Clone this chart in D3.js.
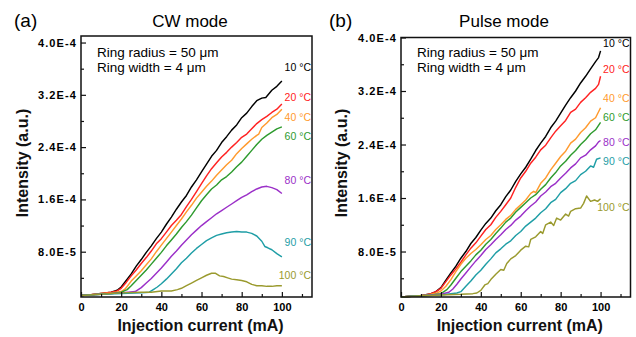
<!DOCTYPE html>
<html>
<head>
<meta charset="utf-8">
<script src="https://cdn.jsdelivr.net/npm/d3@7"></script>
<style>
  body { margin: 0; background: #fff; }
  text { font-family: Arial, "Liberation Sans", sans-serif; }
</style>
</head>
<body>
<div id="chart"></div>
<script>
// ---- data (injection current mA, intensity a.u.) ----
const temps = ['10 °C', '20 °C', '40 °C', '60 °C', '80 °C', '90 °C', '100 °C'];
const colors = ['#000000', '#ff2222', '#ff9a2e', '#2e9b2e', '#9b30c8', '#1f9ea6', '#9a9a2e'];

const xTicks = [0, 20, 40, 60, 80, 100];
const xMinor = [10, 30, 50, 70, 90, 110];
const yTicks = [8.0e-5, 1.6e-4, 2.4e-4, 3.2e-4, 4.0e-4];
const yMinor = [4.0e-5, 1.2e-4, 2.0e-4, 2.8e-4, 3.6e-4];

// CW mode
const cw10 = [[0,1.3e-5],[5,1.4e-5],[10,1.6e-5],[15,1.8e-5],[18,2.1e-5],[20,2.6e-5],[22.5,3.6e-5],[25,4.6e-5],[27.5,5.8e-5],[30,6.8e-5],[32.5,7.9e-5],[35,8.9e-5],[37.5,1.0e-4],[40,1.1e-4],[42.5,1.22e-4],[45,1.33e-4],[47.5,1.45e-4],[50,1.56e-4],[52.5,1.66e-4],[55,1.79e-4],[57.5,1.9e-4],[60,2.02e-4],[62.5,2.14e-4],[65,2.26e-4],[67.5,2.35e-4],[70,2.47e-4],[72.5,2.56e-4],[75,2.66e-4],[77.5,2.74e-4],[80,2.85e-4],[82.5,2.92e-4],[85,3.02e-4],[87.5,3.11e-4],[90,3.15e-4],[92,3.16e-4],[95,3.27e-4],[97.5,3.33e-4],[100,3.41e-4]];
const cw20 = [[0,1.3e-5],[5,1.4e-5],[10,1.6e-5],[15,1.8e-5],[18,2.0e-5],[20,2.4e-5],[22.5,3.3e-5],[25,4.3e-5],[27.5,5.2e-5],[30,6.2e-5],[32.5,7.1e-5],[35,8.1e-5],[37.5,9.2e-5],[40,1.0e-4],[42.5,1.1e-4],[45,1.2e-4],[47.5,1.28e-4],[50,1.37e-4],[52.5,1.49e-4],[55,1.6e-4],[57.5,1.72e-4],[60,1.84e-4],[62.5,1.96e-4],[65,2.07e-4],[67.5,2.16e-4],[70,2.25e-4],[72.5,2.32e-4],[75,2.4e-4],[77.5,2.47e-4],[80,2.55e-4],[82.5,2.6e-4],[85,2.68e-4],[87.5,2.76e-4],[90,2.82e-4],[92.5,2.87e-4],[95,2.93e-4],[97.5,2.98e-4],[100,3.06e-4]];
const cw40 = [[0,1.3e-5],[5,1.4e-5],[10,1.6e-5],[15,1.7e-5],[20,1.9e-5],[22,2.3e-5],[25,3.5e-5],[27.5,4.3e-5],[30,5.1e-5],[32.5,6.0e-5],[35,6.9e-5],[37.5,8.0e-5],[40,9.0e-5],[42.5,1.0e-4],[45,1.1e-4],[47.5,1.2e-4],[50,1.3e-4],[52.5,1.41e-4],[55,1.51e-4],[57.5,1.62e-4],[60,1.71e-4],[62.5,1.8e-4],[65,1.88e-4],[67.5,1.97e-4],[70,2.05e-4],[72.5,2.13e-4],[75,2.2e-4],[77.5,2.3e-4],[80,2.38e-4],[82.5,2.45e-4],[85,2.52e-4],[87.5,2.58e-4],[88.5,2.6e-4],[90,2.7e-4],[92.5,2.77e-4],[95,2.85e-4],[97.5,2.9e-4],[100,2.98e-4]];
const cw60 = [[0,1.3e-5],[5,1.4e-5],[10,1.5e-5],[15,1.6e-5],[20,1.8e-5],[23,2.2e-5],[25,2.8e-5],[27.5,3.6e-5],[30,4.4e-5],[32.5,5.2e-5],[35,6.1e-5],[37.5,7.0e-5],[40,7.9e-5],[42.5,8.9e-5],[45,9.8e-5],[47.5,1.07e-4],[50,1.17e-4],[52.5,1.26e-4],[55,1.36e-4],[57.5,1.47e-4],[60,1.58e-4],[62.5,1.67e-4],[65,1.76e-4],[67.5,1.82e-4],[70,1.9e-4],[72.5,1.95e-4],[75,2.02e-4],[77.5,2.1e-4],[80,2.17e-4],[82.5,2.26e-4],[85,2.35e-4],[87.5,2.44e-4],[90,2.52e-4],[92.5,2.58e-4],[95,2.63e-4],[97.5,2.68e-4],[100,2.71e-4]];
const cw80 = [[0,1.3e-5],[5,1.4e-5],[10,1.5e-5],[20,1.7e-5],[27,1.9e-5],[30,2.5e-5],[32.5,3.2e-5],[35,3.9e-5],[37.5,4.7e-5],[40,5.5e-5],[42.5,6.4e-5],[45,7.3e-5],[47.5,8.1e-5],[50,9.0e-5],[52.5,9.8e-5],[55,1.06e-4],[57.5,1.13e-4],[60,1.2e-4],[62.5,1.26e-4],[65,1.32e-4],[67.5,1.38e-4],[70,1.43e-4],[72.5,1.48e-4],[75,1.53e-4],[77.5,1.58e-4],[80,1.63e-4],[82.5,1.67e-4],[85,1.72e-4],[87.5,1.76e-4],[90,1.79e-4],[92.5,1.8e-4],[95,1.78e-4],[97.5,1.75e-4],[100,1.69e-4]];
const cw90 = [[0,1.3e-5],[10,1.5e-5],[20,1.6e-5],[30,1.7e-5],[34,1.8e-5],[36,2.2e-5],[38,2.6e-5],[40,3.1e-5],[42.5,3.8e-5],[45,4.6e-5],[47.5,5.4e-5],[50,6.3e-5],[52.5,7.0e-5],[55,7.8e-5],[57.5,8.5e-5],[60,9.1e-5],[62.5,9.7e-5],[65,1.01e-4],[67.5,1.05e-4],[70,1.07e-4],[72.5,1.09e-4],[75,1.1e-4],[77.5,1.11e-4],[80,1.1e-4],[82.5,1.1e-4],[85,1.08e-4],[87.5,1.04e-4],[90,9.6e-5],[91.5,8.8e-5],[93,8.6e-5],[95,8.3e-5],[97.5,7.7e-5],[100,7.2e-5]];
const cw100 = [[0,1.3e-5],[10,1.5e-5],[20,1.7e-5],[30,1.8e-5],[35,1.8e-5],[40,2.0e-5],[45,2.0e-5],[48,2.2e-5],[50,2.4e-5],[52.5,2.8e-5],[55,3.2e-5],[57.5,3.6e-5],[60,4.0e-5],[62.5,4.4e-5],[65,4.7e-5],[67,4.7e-5],[69,4.3e-5],[71,4.2e-5],[73,4.0e-5],[75,3.8e-5],[77.5,3.7e-5],[80,3.6e-5],[82.5,3.4e-5],[85,3.0e-5],[87.5,2.8e-5],[90,2.8e-5],[92.5,2.7e-5],[95,2.7e-5],[97.5,2.8e-5],[100,2.8e-5]];

// Pulse mode
const p10 = [[0,1.2e-5],[5,1.3e-5],[10,1.4e-5],[15,1.7e-5],[17.5,2.0e-5],[20,2.6e-5],[22.5,3.7e-5],[25,4.8e-5],[27.5,5.8e-5],[30,7.0e-5],[32.5,8.0e-5],[35,9.2e-5],[37.5,1.01e-4],[40,1.12e-4],[42.5,1.22e-4],[45,1.3e-4],[47.5,1.41e-4],[50,1.5e-4],[52.5,1.62e-4],[55,1.72e-4],[57.5,1.85e-4],[60,1.96e-4],[62.5,2.06e-4],[65,2.18e-4],[67.5,2.31e-4],[70,2.42e-4],[72.5,2.52e-4],[75,2.65e-4],[77.5,2.75e-4],[80,2.87e-4],[82.5,2.99e-4],[85,3.1e-4],[87.5,3.2e-4],[90,3.32e-4],[92.5,3.42e-4],[95,3.53e-4],[97.5,3.64e-4],[99,3.7e-4],[100,3.8e-4]];
const p20 = [[0,1.2e-5],[5,1.3e-5],[10,1.4e-5],[15,1.7e-5],[17.5,2.0e-5],[20,2.5e-5],[22.5,3.5e-5],[25,4.5e-5],[27.5,5.4e-5],[30,6.4e-5],[32.5,7.5e-5],[35,8.5e-5],[37.5,9.3e-5],[40,1.03e-4],[42.5,1.13e-4],[45,1.2e-4],[47.5,1.31e-4],[50,1.4e-4],[52.5,1.5e-4],[55,1.6e-4],[57.5,1.76e-4],[60,1.9e-4],[62.5,2.0e-4],[65,2.12e-4],[67.5,2.21e-4],[70,2.32e-4],[72.5,2.39e-4],[75,2.5e-4],[77.5,2.6e-4],[80,2.68e-4],[82.5,2.76e-4],[85,2.88e-4],[87.5,2.93e-4],[90,3.03e-4],[92.5,3.1e-4],[95,3.18e-4],[97.5,3.24e-4],[99,3.3e-4],[100,3.42e-4]];
const p40 = [[0,1.2e-5],[5,1.3e-5],[10,1.4e-5],[15,1.6e-5],[18,1.8e-5],[20,2.1e-5],[22.5,2.8e-5],[25,3.8e-5],[27.5,5.0e-5],[30,6.1e-5],[32.5,7.0e-5],[35,7.7e-5],[37.5,8.3e-5],[40,9.0e-5],[42.5,9.8e-5],[45,1.04e-4],[47.5,1.13e-4],[50,1.2e-4],[52.5,1.28e-4],[55,1.34e-4],[57.5,1.43e-4],[60,1.5e-4],[62.5,1.57e-4],[65,1.67e-4],[66.5,1.7e-4],[67.5,1.68e-4],[70,1.82e-4],[72.5,1.9e-4],[75,2.02e-4],[77.5,2.12e-4],[80,2.22e-4],[82.5,2.3e-4],[85,2.42e-4],[87.5,2.48e-4],[90,2.58e-4],[92.5,2.65e-4],[95,2.75e-4],[97.5,2.8e-4],[98.5,2.86e-4],[100,2.95e-4]];
const p60 = [[0,1.2e-5],[5,1.3e-5],[10,1.4e-5],[15,1.5e-5],[20,1.7e-5],[23,2.3e-5],[25,3.0e-5],[27.5,4.0e-5],[30,5.0e-5],[32.5,5.8e-5],[35,6.6e-5],[37.5,7.5e-5],[40,8.2e-5],[42.5,9.1e-5],[45,9.8e-5],[47.5,1.07e-4],[50,1.15e-4],[52.5,1.24e-4],[55,1.3e-4],[57.5,1.39e-4],[60,1.46e-4],[62.5,1.53e-4],[65,1.6e-4],[67.5,1.65e-4],[70,1.73e-4],[72.5,1.8e-4],[75,1.9e-4],[77.5,1.98e-4],[80,2.08e-4],[82.5,2.15e-4],[85,2.24e-4],[87.5,2.31e-4],[90,2.4e-4],[92.5,2.47e-4],[95,2.56e-4],[97.5,2.62e-4],[100,2.73e-4]];
const p80 = [[0,1.2e-5],[5,1.3e-5],[10,1.4e-5],[15,1.5e-5],[20,1.6e-5],[24,1.9e-5],[26,2.4e-5],[28,3.1e-5],[30,3.9e-5],[32.5,4.8e-5],[35,5.7e-5],[37.5,6.6e-5],[40,7.4e-5],[42.5,8.3e-5],[45,9.0e-5],[47.5,9.8e-5],[50,1.05e-4],[52.5,1.13e-4],[55,1.19e-4],[57.5,1.27e-4],[60,1.33e-4],[62.5,1.41e-4],[65,1.48e-4],[67.5,1.54e-4],[70,1.63e-4],[72.5,1.69e-4],[75,1.77e-4],[77.5,1.82e-4],[80,1.9e-4],[82.5,1.97e-4],[85,2.05e-4],[87.5,2.11e-4],[90,2.2e-4],[92.5,2.24e-4],[95,2.32e-4],[97.5,2.38e-4],[99,2.44e-4],[100,2.46e-4]];
const p90 = [[0,1.2e-5],[5,1.3e-5],[10,1.4e-5],[20,1.5e-5],[28,1.8e-5],[30,2.0e-5],[32.5,2.8e-5],[35,3.6e-5],[37.5,4.5e-5],[40,5.2e-5],[42.5,6.1e-5],[45,6.9e-5],[47.5,7.8e-5],[50,8.4e-5],[52.5,9.1e-5],[55,9.6e-5],[57.5,1.04e-4],[60,1.1e-4],[62.5,1.18e-4],[65,1.24e-4],[67.5,1.3e-4],[70,1.38e-4],[72.5,1.44e-4],[75,1.53e-4],[77.5,1.58e-4],[80,1.68e-4],[82.5,1.74e-4],[85,1.82e-4],[87.5,1.86e-4],[90,1.95e-4],[92.5,2.0e-4],[95,2.08e-4],[96.5,2.06e-4],[98,2.18e-4],[100,2.2e-4]];
const p100 = [[0,1.2e-5],[10,1.4e-5],[20,1.5e-5],[30,1.6e-5],[36,1.7e-5],[38,1.8e-5],[40,2.2e-5],[42,3.0e-5],[43.5,3.2e-5],[45,3.8e-5],[47.5,4.6e-5],[50,5.3e-5],[51.5,5.2e-5],[53,6.2e-5],[55,6.9e-5],[57.5,7.4e-5],[60,8.2e-5],[62.5,8.8e-5],[64,8.7e-5],[65,9.8e-5],[67.5,1.02e-4],[70,1.1e-4],[71,1.07e-4],[72.5,1.2e-4],[75,1.24e-4],[76.5,1.19e-4],[78,1.3e-4],[80,1.27e-4],[82.5,1.36e-4],[84,1.33e-4],[85,1.4e-4],[87.5,1.44e-4],[90,1.45e-4],[91.5,1.52e-4],[93,1.63e-4],[95,1.55e-4],[97,1.57e-4],[98.5,1.55e-4],[100,1.59e-4]];

// temperature label heights (intensity units)
const cwLabelY = [3.56e-4, 3.11e-4, 2.80e-4, 2.51e-4, 1.83e-4, 8.9e-5, 3.8e-5];
const pLabelY = [3.86e-4, 3.47e-4, 3.03e-4, 2.75e-4, 2.38e-4, 2.10e-4, 1.40e-4];

const panels = [
  { letter: '(a)', title: 'CW mode', series: [cw10, cw20, cw40, cw60, cw80, cw90, cw100], labelY: cwLabelY,
    left: 81, top: 36, width: 231, height: 261, yDomain: [1.07e-5, 4.1e-4], letterX: 14, titleX: 190, yTitleX: 27.5 },
  { letter: '(b)', title: 'Pulse mode', series: [p10, p20, p40, p60, p80, p90, p100], labelY: pLabelY,
    left: 401, top: 37.5, width: 229.5, height: 259.5, yDomain: [1.2e-5, 4.0e-4], letterX: 329, titleX: 504, yTitleX: 346.5 }
];

const svg = d3.select('#chart').append('svg')
  .attr('width', 636)
  .attr('height', 337);

const fmt = v => v.toExponential(1).toUpperCase();

panels.forEach(p => {
  const g = svg.append('g').attr('transform', `translate(${p.left},${p.top})`);

  const x = d3.scaleLinear().domain([0, 115]).range([0, p.width]);
  const y = d3.scaleLinear().domain(p.yDomain).range([p.height, 0]);

  // curves
  const line = d3.line().x(d => x(d[0])).y(d => y(d[1]));
  g.selectAll('.curve')
    .data(p.series)
    .enter()
    .append('path')
    .attr('d', line)
    .attr('fill', 'none')
    .attr('stroke', (d, i) => colors[i])
    .attr('stroke-width', 1.45)
    .attr('stroke-linejoin', 'round');

  // X axis, ticks pointing inward
  const xAxis = g.append('g')
    .attr('transform', `translate(0,${p.height})`)
    .call(d3.axisBottom(x).tickValues(xTicks).tickSize(-5).tickSizeOuter(0).tickPadding(6));
  xAxis.selectAll('text').style('font-size', '11px').style('font-weight', 'bold').attr('fill', '#000');
  xAxis.select('.domain').remove();
  g.append('g')
    .attr('transform', `translate(0,${p.height})`)
    .call(d3.axisBottom(x).tickValues(xMinor).tickSize(-3).tickFormat(''))
    .select('.domain').remove();

  // Y axis
  const yAxis = g.append('g')
    .call(d3.axisLeft(y).tickValues(yTicks).tickSize(-5).tickSizeOuter(0).tickPadding(4).tickFormat(fmt));
  yAxis.selectAll('text').style('font-size', '11px').style('font-weight', 'bold')
    .style('letter-spacing', '1.1px').attr('fill', '#000');
  yAxis.select('.domain').remove();
  g.append('g')
    .call(d3.axisLeft(y).tickValues(yMinor).tickSize(-3).tickFormat(''))
    .select('.domain').remove();
  g.selectAll('.tick line').attr('stroke', '#111').attr('stroke-width', 1.2);

  // frame
  g.append('rect')
    .attr('width', p.width)
    .attr('height', p.height)
    .attr('fill', 'none')
    .attr('stroke', '#111')
    .attr('stroke-width', 1.5);

  // temperature labels
  g.selectAll('.tlabel')
    .data(temps)
    .enter()
    .append('text')
    .attr('x', p.width - 1)
    .attr('y', (d, i) => y(p.labelY[i]))
    .attr('text-anchor', 'end')
    .style('font-size', '10.5px')
    .attr('fill', (d, i) => colors[i])
    .text(d => d);

  // ring annotation
  g.append('text').attr('x', 16).attr('y', 56.5 - p.top)
    .style('font-size', '13.5px').text('Ring radius = 50 μm');
  g.append('text').attr('x', 16).attr('y', 71.5 - p.top)
    .style('font-size', '13.5px').text('Ring width = 4 μm');

  // axis titles
  svg.append('text')
    .attr('x', p.left + p.width / 2 + 4)
    .attr('y', 330.5)
    .attr('text-anchor', 'middle')
    .style('font-size', '16px')
    .style('font-weight', 'bold')
    .attr('fill', '#111')
    .text('Injection current (mA)');

  svg.append('text')
    .attr('transform', `translate(${p.yTitleX},163) rotate(-90)`)
    .attr('text-anchor', 'middle')
    .style('font-size', '16px')
    .style('font-weight', 'bold')
    .attr('fill', '#111')
    .text('Intensity (a.u.)');

  // panel title and letter
  svg.append('text')
    .attr('x', p.titleX)
    .attr('y', 27)
    .attr('text-anchor', 'middle')
    .style('font-size', '17px')
    .text(p.title);

  svg.append('text')
    .attr('x', p.letterX)
    .attr('y', 26.5)
    .style('font-size', '19px')
    .text(p.letter);
});
</script>
</body>
</html>
